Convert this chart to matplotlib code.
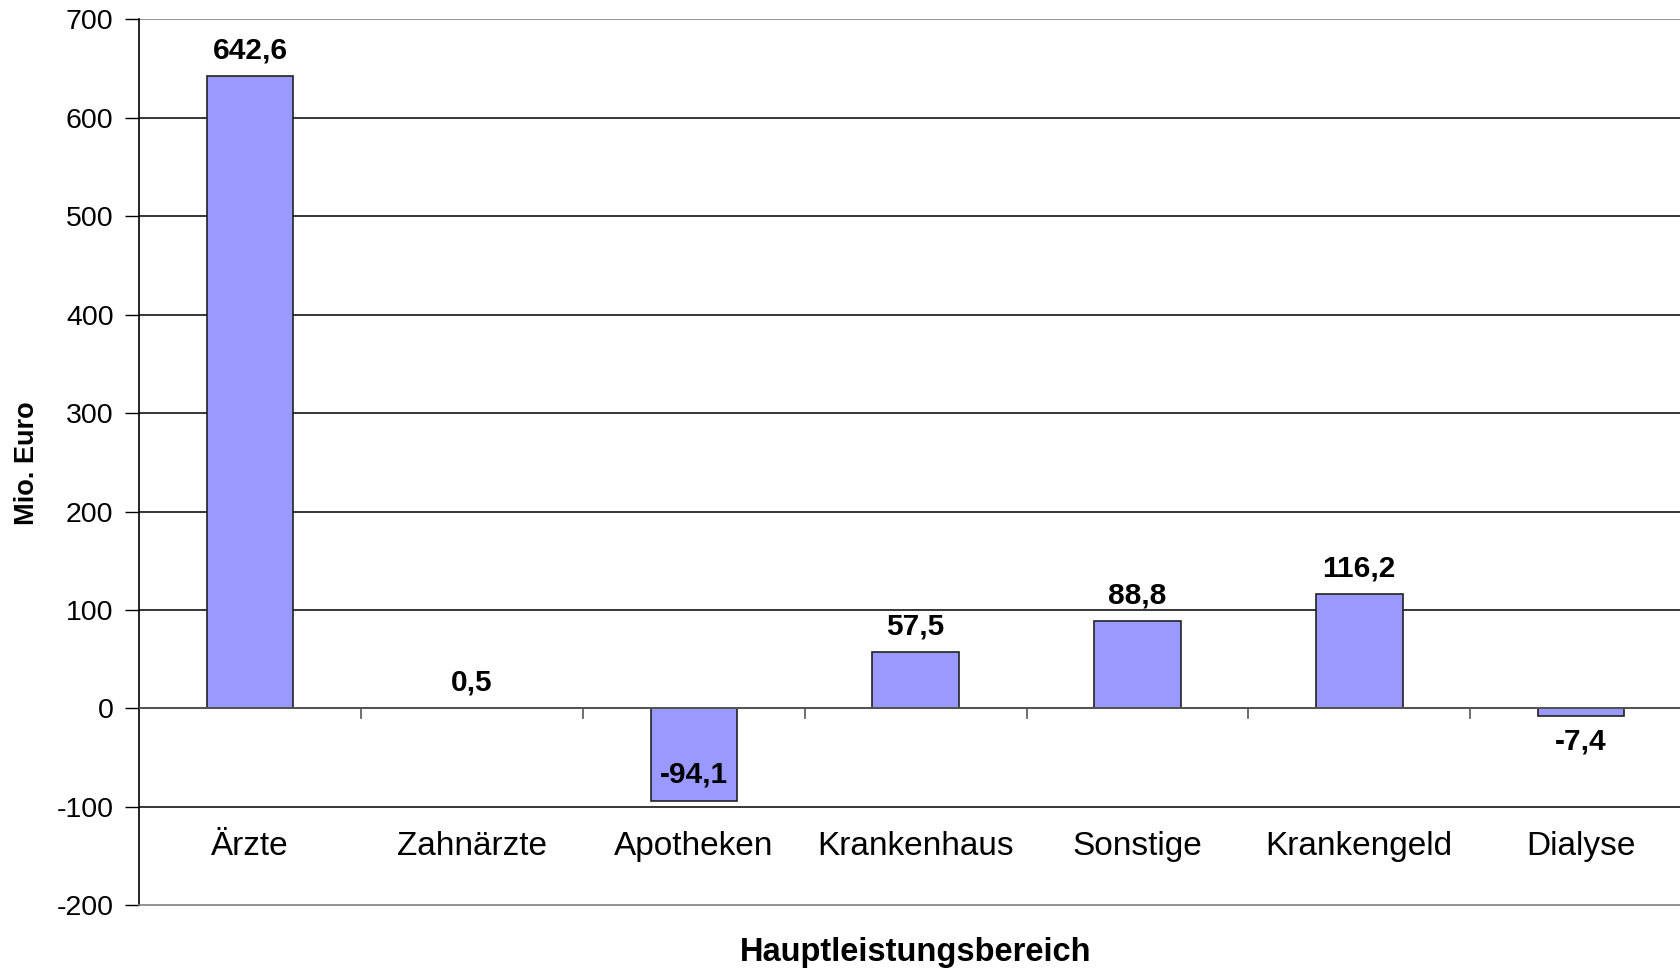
import matplotlib
matplotlib.use("Agg")
import matplotlib.pyplot as plt

# ---- Data ---------------------------------------------------------------
categories = ["Ärzte", "Zahnärzte", "Apotheken", "Krankenhaus", "Sonstige", "Krankengeld", "Dialyse"]
values     = [642.6, 0.5, -94.1, 57.5, 88.8, 116.2, -7.4]
value_text = ["642,6", "0,5", "-94,1", "57,5", "88,8", "116,2", "-7,4"]
y_ticks    = [-200, -100, 0, 100, 200, 300, 400, 500, 600, 700]

plt.rcParams["font.family"] = ["Liberation Sans", "DejaVu Sans"]
plt.rcParams["axes.unicode_minus"] = False

fig = plt.figure(figsize=(16.8, 9.73), dpi=100)
ax = fig.add_axes([139.3 / 1680, 67.6 / 973, 1552.7 / 1680, 886.1 / 973])

x = list(range(len(categories)))
ax.bar(x, values, width=0.39, color="#9999FF", edgecolor="#222222", linewidth=1.2, zorder=3)

ax.set_xlim(-0.5, len(categories) - 0.5)
ax.set_ylim(-200, 700)
ax.set_yticks(y_ticks)
ax.set_yticklabels([str(v) for v in y_ticks], fontsize=20.5)
ax.tick_params(axis="y", direction="out", length=10, width=1, color="black", pad=8.5)

# gridlines
for v in y_ticks[1:-1]:
    ax.axhline(v, color="black", linewidth=1.1, zorder=1)

# spines
for s in ["top", "right"]:
    ax.spines[s].set_visible(False)
ax.axhline(700, color="#808080", linewidth=1.2, zorder=1)
ax.spines["bottom"].set_color("#808080")
ax.spines["bottom"].set_linewidth(1.2)
ax.spines["left"].set_color("black")
ax.spines["left"].set_linewidth(1.2)

# category axis at zero with boundary ticks
ax.axhline(0, color="#555555", linewidth=1.4, zorder=4)
ax.set_xticks([])
for i in range(1, len(categories)):
    ax.plot([i - 0.5, i - 0.5], [0, -10], color="#555555", linewidth=1.2, zorder=4, clip_on=False)

for i, name in enumerate(categories):
    ax.text(i, -140, name, ha="center", va="center", fontsize=24)

# value labels
for i, (v, t) in enumerate(zip(values, value_text)):
    if v >= 0:
        off = 18.5
    elif v < -50:
        off = 19            # inside bar near its end
    else:
        off = -18.5
    ax.annotate(t, (i, v), xytext=(0, off), textcoords="offset points",
                ha="center", va="center", fontsize=21.5, fontweight="bold", zorder=5)

fig.text(27 / 1680, 1 - 463 / 973, "Mio. Euro", rotation=90, ha="center", va="center",
         fontsize=19.5, fontweight="bold")
fig.text((139.3 + 1552.7 / 2) / 1680, 1 - 953 / 973, "Hauptleistungsbereich",
         ha="center", va="center", fontsize=23.5, fontweight="bold")

fig.savefig("out.png", dpi=100)
